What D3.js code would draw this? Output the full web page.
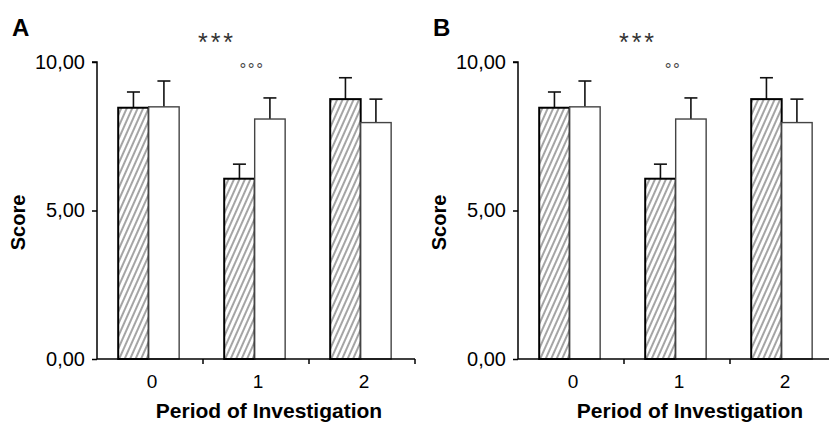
<!DOCTYPE html>
<html>
<head>
<meta charset="utf-8">
<script src="https://cdn.jsdelivr.net/npm/d3@7"></script>
<style>
  body { margin: 0; background: #fff; }
  svg { display: block; font-family: "Liberation Sans", Arial, sans-serif; }
</style>
</head>
<body>
<div id="chart"></div>
<script>
// data
let periods = ["0", "1", "2"];
let groups = ["hatched", "white"];
let hatchedMeans = [8.46, 6.07, 8.75];
let hatchedErr = [0.53, 0.49, 0.72];
let whiteMeans = [8.49, 8.08, 7.96];
let whiteErr = [0.87, 0.71, 0.79];
let yTicks = [0, 5, 10];
let panels = ["A", "B"];
let stars = ["***", "***"];
let circles = ["°°°", "°°"];

let width = 829;
let height = 422;

let svg = d3.select("#chart").append("svg").attr("width", width).attr("height", height);

// hatch pattern
let defs = svg.append("defs");
defs.append("pattern")
    .attr("id", "hatch")
    .attr("patternUnits", "userSpaceOnUse")
    .attr("width", 5).attr("height", 10)
    .attr("patternTransform", "rotate(24)")
    .append("line")
    .attr("x1", 1).attr("y1", -2).attr("x2", 1).attr("y2", 12)
    .attr("stroke", "#1a1a1a").attr("stroke-width", 0.8);

// layout of one panel
let margin = { top: 62, left: 97 };
let plotW = 318;
let plotH = 297;
let panelShift = 421;

let y = d3.scaleLinear().domain([0, 10]).range([plotH, 0]);
let x0 = d3.scaleBand().domain(periods).range([0, plotW]);
let x1 = d3.scaleBand().domain(groups)
    .range([x0.bandwidth() * 0.2, x0.bandwidth() * 0.775]);

let rows = periods.map((p, i) => ({
    period: p,
    values: [
        { group: "hatched", mean: hatchedMeans[i], err: hatchedErr[i] },
        { group: "white", mean: whiteMeans[i], err: whiteErr[i] }
    ]
}));

panels.forEach((name, k) => {
    let ox = k * panelShift;
    let g = svg.append("g").attr("transform", `translate(${margin.left + ox}, ${margin.top})`);

    // panel letter
    svg.append("text").attr("x", 12 + ox).attr("y", 36)
        .attr("font-size", "24px").attr("font-weight", "bold").text(name);

    // bars
    let per = g.selectAll(".period").data(rows).enter().append("g")
        .attr("transform", d => `translate(${x0(d.period)}, 0)`);

    // error bars (drawn first, bar covers bottom)
    per.selectAll(".err").data(d => d.values).enter().append("g").each(function (d) {
        let cx = x1(d.group) + x1.bandwidth() / 2;
        let e = d3.select(this);
        e.append("line").attr("x1", cx).attr("x2", cx)
            .attr("y1", y(d.mean)).attr("y2", y(d.mean + d.err))
            .attr("stroke", "#111").attr("stroke-width", 1.6);
        e.append("line").attr("x1", cx - 6.5).attr("x2", cx + 6.5)
            .attr("y1", y(d.mean + d.err)).attr("y2", y(d.mean + d.err))
            .attr("stroke", "#111").attr("stroke-width", 1.6);
    });

    per.selectAll("rect").data(d => d.values).enter().append("rect")
        .attr("x", d => x1(d.group))
        .attr("y", d => y(d.mean))
        .attr("width", x1.bandwidth())
        .attr("height", d => plotH - y(d.mean))
        .attr("fill", d => d.group == "hatched" ? "url(#hatch)" : "#fff")
        .attr("stroke", d => d.group == "hatched" ? "#000" : "#444")
        .attr("stroke-width", d => d.group == "hatched" ? 2 : 1.4);

    // y axis
    let yAxis = d3.axisLeft(y).tickValues(yTicks).tickSize(5).tickPadding(7)
        .tickFormat(d => d3.format(".2f")(d).replace(".", ","));
    let ya = g.append("g").call(yAxis);
    ya.select(".domain").attr("d", `M0,${plotH}V0H-5`).attr("stroke-width", 1.5);
    ya.selectAll(".tick line").attr("stroke-width", 1.5);
    ya.selectAll("text").attr("font-size", "20px").attr("font-family", "Liberation Sans, Arial, sans-serif").attr("fill", "#000");

    // x axis: ticks at band boundaries, labels at band centers
    let xa = g.append("g").attr("transform", `translate(0, ${plotH})`);
    xa.append("line").attr("x1", 0).attr("x2", plotW).attr("stroke", "#000").attr("stroke-width", 1.5);
    xa.selectAll(".xt").data(periods).enter().append("line")
        .attr("x1", d => x0(d) + x0.bandwidth()).attr("x2", d => x0(d) + x0.bandwidth())
        .attr("y1", 0).attr("y2", 5).attr("stroke", "#000").attr("stroke-width", 1.5);
    xa.selectAll(".xl").data(periods).enter().append("text")
        .attr("x", d => x0(d) + x0.bandwidth() / 2 + 2)
        .attr("y", 29).attr("text-anchor", "middle")
        .attr("font-size", "19px").text(d => d);

    // axis titles
    g.append("text").attr("x", x0("1") + x0.bandwidth() / 2 + 13).attr("y", 356)
        .attr("text-anchor", "middle").attr("font-size", "21px").attr("font-weight", "bold")
        .text("Period of Investigation");
    g.append("text").attr("transform", `translate(-72, ${y(5) + 12}) rotate(-90)`)
        .attr("text-anchor", "middle").attr("font-size", "20px").attr("font-weight", "bold")
        .text("Score");

    // significance marks over period 1
    g.append("text").attr("x", x0("1") + 14).attr("y", -11)
        .attr("text-anchor", "middle").attr("font-size", "25px").attr("letter-spacing", "3px")
        .attr("fill", "#333").text(stars[k]);
    g.append("text").attr("x", x0("1") + 49).attr("y", 13)
        .attr("text-anchor", "middle").attr("font-size", "17px").attr("letter-spacing", "1.5px")
        .attr("fill", "#444").text(circles[k]);
});
</script>
</body>
</html>
